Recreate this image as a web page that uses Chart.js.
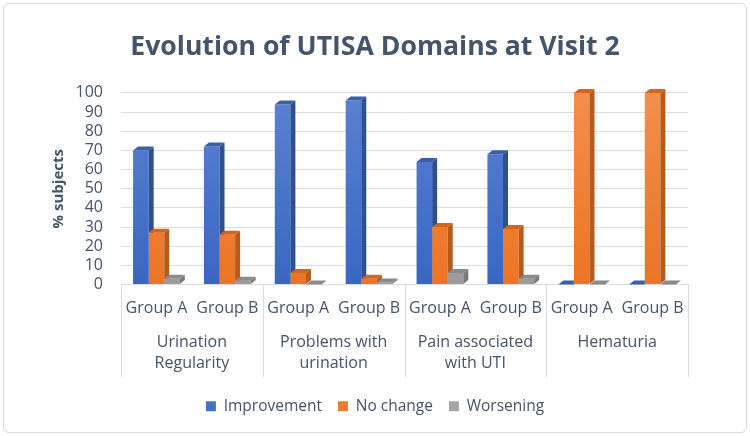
<!DOCTYPE html>
<html>
<head>
<meta charset="utf-8">
<script src="https://cdn.jsdelivr.net/npm/chart.js@4"></script>
<style>
  body { margin: 0; background: #fff; }
  #wrap { position: relative; width: 750px; height: 436px; }
  #frame { position: absolute; left: 3px; top: 3px; width: 742px; height: 428px;
           border: 1px solid #D9D9DE; border-radius: 6px; pointer-events: none; }
  canvas { position: absolute; left: 0; top: 0; }
</style>
</head>
<body>
<div id="wrap">
  <canvas id="utisaChart" width="750" height="436"></canvas>
  <div id="frame"></div>
</div>
<script>
const groups = ["Group A", "Group B", "Group A", "Group B", "Group A", "Group B", "Group A", "Group B"];
const domains = [["Urination", "Regularity"], ["Problems with", "urination"], ["Pain associated", "with UTI"], ["Hematuria"]];
const improvement = [70, 72, 94, 96, 64, 68, 0, 0];
const noChange = [27, 26, 6, 3, 30, 29, 100, 100];
const worsening = [3, 2, 0, 1, 6, 3, 0, 0];
const yTicks = [0, 10, 20, 30, 40, 50, 60, 70, 80, 90, 100];

const textColor = "#44546A";
const fontFamily = "'Open Sans', sans-serif";

// front gradient (top, bottom), right side, top face
const faceColors = [
  { top: "#5A82D2", bottom: "#3A66C2", side: "#2E508E", cap: "#3A5FA6", legend: "#4472C4" },
  { top: "#F28E4C", bottom: "#EC7424", side: "#B85A1C", cap: "#CF651F", legend: "#ED7D31" },
  { top: "#ABABAB", bottom: "#9C9C9C", side: "#7A7A7A", cap: "#8A8A8A", legend: "#A5A5A5" }
];
const depthX = 5;
const depthY = -4;

function frontFill(idx) {
  return function(ctx) {
    const area = ctx.chart.chartArea;
    if (!area) return faceColors[idx].legend;
    const g = ctx.chart.ctx.createLinearGradient(0, area.top, 0, area.bottom);
    g.addColorStop(0, faceColors[idx].top);
    g.addColorStop(1, faceColors[idx].bottom);
    return g;
  };
}

// side and top faces for the 3D look, built from each bar element
const depthFaces = {
  id: "depthFaces",
  afterDatasetsDraw(chart) {
    const ctx = chart.ctx;
    const metas = chart.getSortedVisibleDatasetMetas().sort((a, b) => a.index - b.index);
    metas.forEach((meta, d) => {
      const next = metas[d + 1];
      meta.data.forEach((bar, i) => {
        const w = bar.width;
        const left = bar.x - w / 2;
        const right = bar.x + w / 2;
        const top = Math.min(bar.y, bar.base);
        const base = Math.max(bar.y, bar.base);
        ctx.save();
        if (next) {
          const nb = next.data[i];
          ctx.beginPath();
          ctx.rect(0, 0, chart.width, chart.height);
          ctx.rect(nb.x - nb.width / 2, Math.min(nb.y, nb.base), nb.width, Math.abs(nb.base - nb.y));
          ctx.clip("evenodd");
        }
        ctx.fillStyle = faceColors[d].side;
        ctx.beginPath();
        ctx.moveTo(right, top);
        ctx.lineTo(right + depthX, top + depthY);
        ctx.lineTo(right + depthX, base + depthY);
        ctx.lineTo(right, base);
        ctx.closePath();
        ctx.fill();
        ctx.fillStyle = faceColors[d].cap;
        ctx.beginPath();
        ctx.moveTo(left, top);
        ctx.lineTo(left + depthX, top + depthY);
        ctx.lineTo(right + depthX, top + depthY);
        ctx.lineTo(right, top);
        ctx.closePath();
        ctx.fill();
        ctx.restore();
      });
    });
  }
};

// dividers between the domain blocks under the axis
const domainDividers = {
  id: "domainDividers",
  afterDraw(chart) {
    const x = chart.scales.x;
    const ctx = chart.ctx;
    const step = (x.right - x.left) / domains.length;
    ctx.save();
    ctx.strokeStyle = "#D9DCE4";
    ctx.lineWidth = 1;
    for (let i = 0; i <= domains.length; i++) {
      const px = Math.round(x.left + i * step) + 0.5;
      ctx.beginPath();
      ctx.moveTo(px, x.top);
      ctx.lineTo(px, x.top + 93);
      ctx.stroke();
    }
    ctx.restore();
  }
};

const chartCtx = document.getElementById("utisaChart").getContext("2d");

new Chart(chartCtx, {
  type: "bar",
  data: {
    labels: groups,
    datasets: [
      { label: "Improvement", data: improvement, backgroundColor: frontFill(0) },
      { label: "No change", data: noChange, backgroundColor: frontFill(1) },
      { label: "Worsening", data: worsening, backgroundColor: frontFill(2) }
    ]
  },
  options: {
    responsive: false,
    animation: false,
    layout: {
      padding: { top: 8, left: 14, right: 14, bottom: 12 }
    },
    datasets: {
      bar: {
        categoryPercentage: 0.66,
        barPercentage: 1
      }
    },
    plugins: {
      title: {
        display: true,
        text: "Evolution of UTISA Domains at Visit 2",
        color: textColor,
        font: { family: fontFamily, size: 26.6, weight: "bold" },
        padding: { top: 23, bottom: 30 }
      },
      legend: {
        position: "bottom",
        labels: {
          color: textColor,
          font: { family: fontFamily, size: 15.5 },
          boxWidth: 10,
          boxHeight: 10,
          padding: 16,
          generateLabels(chart) {
            return chart.data.datasets.map((ds, i) => ({
              text: ds.label,
              fillStyle: faceColors[i].legend,
              strokeStyle: faceColors[i].legend,
              lineWidth: 0,
              fontColor: textColor,
              datasetIndex: i
            }));
          }
        }
      },
      tooltip: { enabled: false }
    },
    scales: {
      y: {
        min: 0,
        max: 100,
        afterBuildTicks(scale) {
          scale.ticks = yTicks.map(v => ({ value: v }));
        },
        afterFit(scale) {
          scale.width = 107;
        },
        ticks: {
          color: textColor,
          font: { family: fontFamily, size: 16 },
          padding: 18,
          autoSkip: false
        },
        grid: {
          color: "#DADDE6",
          drawTicks: false
        },
        border: { display: false },
        title: {
          display: true,
          text: "% subjects",
          color: textColor,
          font: { family: fontFamily, size: 15, weight: "bold" },
          padding: { top: 36, bottom: 0 }
        }
      },
      yRight: {
        type: "linear",
        position: "right",
        afterFit(scale) {
          scale.width = 48;
        },
        ticks: { display: false },
        grid: { display: false, drawTicks: false },
        border: { display: false }
      },
      x: {
        afterFit(scale) {
          scale.height = 40;
        },
        ticks: {
          color: textColor,
          font: { family: fontFamily, size: 16 },
          padding: 14,
          maxRotation: 0,
          autoSkip: false
        },
        grid: { display: false, drawTicks: false },
        border: { display: true, color: "#D9DCE4" }
      },
      x2: {
        type: "category",
        position: "bottom",
        labels: domains,
        afterFit(scale) {
          scale.height = 58;
        },
        ticks: {
          color: textColor,
          font: { family: fontFamily, size: 16, lineHeight: 1.33 },
          padding: 7,
          maxRotation: 0,
          autoSkip: false
        },
        grid: { display: false, drawTicks: false },
        border: { display: false }
      }
    }
  },
  plugins: [depthFaces, domainDividers]
});
</script>
</body>
</html>
